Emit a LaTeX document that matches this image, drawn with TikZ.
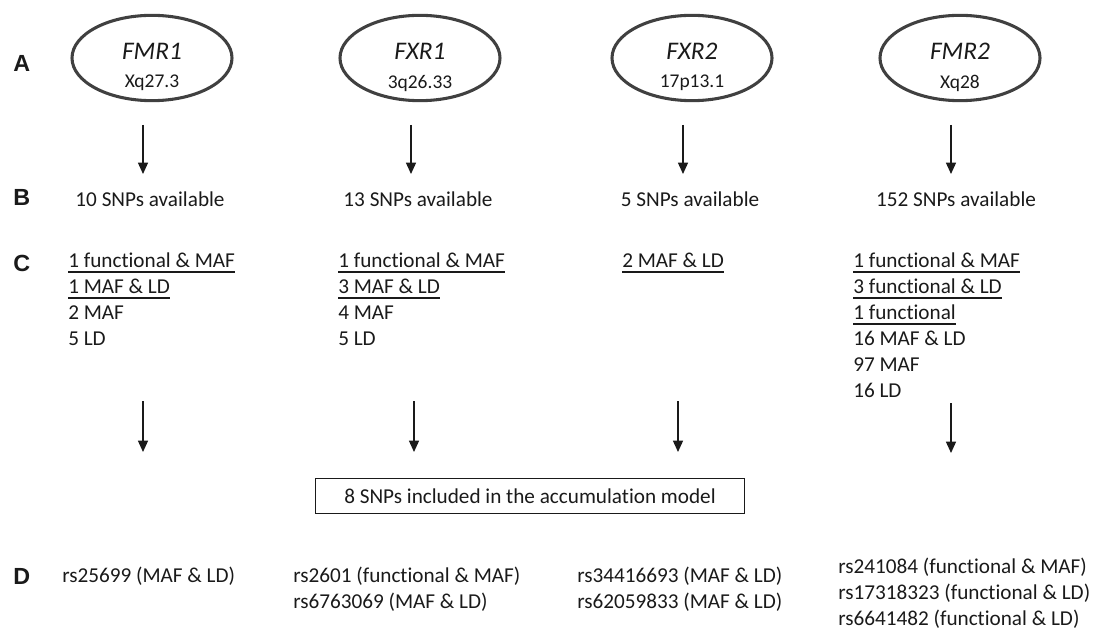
\documentclass[tikz,border=0pt]{standalone}
\usepackage{fontspec}
\setmainfont{Carlito}[Ligatures=NoCommon]
\newfontfamily\panelfont{Liberation Sans}
\usetikzlibrary{shapes.geometric,arrows.meta,positioning}

\definecolor{ringgray}{HTML}{404040}
\definecolor{inkgray}{HTML}{1A1A1A}

% underlined entry
\newcommand{\snpul}[1]{\setbox0\hbox{#1}\rlap{\rule[-3.6pt]{\wd0}{1.2pt}}\box0}

\tikzset{
  gene/.style={ellipse, draw=ringgray, line width=2.3pt, minimum width=120pt,
    minimum height=64pt, inner sep=0pt},
  genename/.style={font=\fontsize{19}{21}\selectfont\itshape, inner sep=0pt, text=inkgray},
  band/.style={font=\fontsize{14.6}{17}\selectfont, inner sep=0pt, text=inkgray},
  panel/.style={font=\panelfont\bfseries\fontsize{17.5}{20}\selectfont, anchor=west,
    inner sep=0pt, text=inkgray},
  avail/.style={font=\fontsize{15.9}{19.5}\selectfont, inner sep=0pt, text=inkgray},
  snplist/.style={font=\fontsize{15.9}{19.5}\selectfont, align=left, anchor=north west,
    inner sep=0pt, text=inkgray},
  flow/.style={draw=inkgray, line width=1pt, -{Triangle[length=8.5pt,width=7.5pt]}},
}

\begin{document}
\begin{tikzpicture}[x=0.75pt, y=-0.75pt]
\useasboundingbox (0,0) rectangle (1096,631);

% row A: genes
\node[panel] (la) at (13,63) {A};
\node[gene] (fmr1) at (152,58) {};
\node[gene] (fxr1) at (420,58) {};
\node[gene] (fxr2) at (692,58) {};
\node[gene] (fmr2) at (960,58) {};
\node[genename] (fmr1n) at (152,51) {FMR1};
\node[genename] (fxr1n) at (420,51) {FXR1};
\node[genename] (fxr2n) at (692,51) {FXR2};
\node[genename] (fmr2n) at (960,51) {FMR2};
\node[band] (fmr1b) at (152,83) {Xq27.3};
\node[band] (fxr1b) at (420,83) {3q26.33};
\node[band] (fxr2b) at (692,83) {17p13.1};
\node[band] (fmr2b) at (960,83) {Xq28};

% row B
\node[panel] (lb) at (13,197) {B};
\node[avail] (b1) at (150,199) {10 SNPs available};
\node[avail] (b2) at (418,199) {13 SNPs available};
\node[avail] (b3) at (690,199) {5 SNPs available};
\node[avail] (b4) at (956,199) {152 SNPs available};

\coordinate (t1) at (143,125);
\coordinate (t2) at (411,125);
\coordinate (t3) at (683,125);
\coordinate (t4) at (951,125);
\coordinate (h1) at (143,174);
\coordinate (h2) at (411,174);
\coordinate (h3) at (683,174);
\coordinate (h4) at (951,174);
\draw[flow] (t1) -- (h1);
\draw[flow] (t2) -- (h2);
\draw[flow] (t3) -- (h3);
\draw[flow] (t4) -- (h4);

% row C
\node[panel] (lc) at (13,263) {C};
\node[snplist] (c1) at (68,253) {\snpul{1 functional \& MAF}\\\snpul{1 MAF \& LD}\\2 MAF\\5 LD};
\node[snplist] (c2) at (338,253) {\snpul{1 functional \& MAF}\\\snpul{3 MAF \& LD}\\4 MAF\\5 LD};
\node[snplist] (c3) at (622,253) {\snpul{2 MAF \& LD}};
\node[snplist] (c4) at (853,253) {\snpul{1 functional \& MAF}\\\snpul{3 functional \& LD}\\\snpul{1 functional}\\16 MAF \& LD\\97 MAF\\16 LD};

\coordinate (u1) at (143,401);
\coordinate (u2) at (414,401);
\coordinate (u3) at (678,401);
\coordinate (u4) at (951,403);
\coordinate (v1) at (143,452);
\coordinate (v2) at (414,452);
\coordinate (v3) at (678,452);
\coordinate (v4) at (951,453);
\draw[flow] (u1) -- (v1);
\draw[flow] (u2) -- (v2);
\draw[flow] (u3) -- (v3);
\draw[flow] (u4) -- (v4);

\node[avail, draw=inkgray, line width=0.8pt, minimum width=322pt, minimum height=26pt]
  (model) at (530,496) {8 SNPs included in the accumulation model};

% row D
\node[panel] (ld) at (13,576) {D};
\node[snplist] (d1) at (62,567) {rs25699 (MAF \& LD)};
\node[snplist] (d2) at (293,567) {rs2601 (functional \& MAF)\\rs6763069 (MAF \& LD)};
\node[snplist] (d3) at (577,567) {rs34416693 (MAF \& LD)\\rs62059833 (MAF \& LD)};
\node[snplist] (d4) at (838,558) {rs241084 (functional \& MAF)\\rs17318323 (functional \& LD)\\rs6641482 (functional \& LD)};
\end{tikzpicture}
\end{document}
